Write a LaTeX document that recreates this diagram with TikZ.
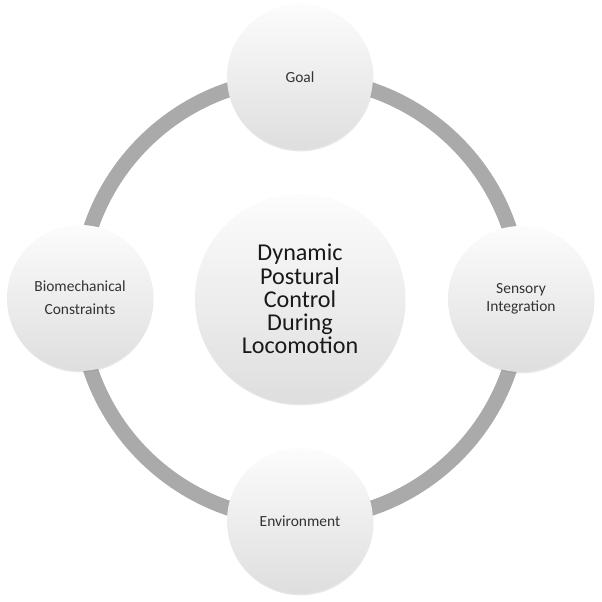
\documentclass[tikz,border=0pt]{standalone}
\usepackage{fontspec}
\setmainfont{Carlito}
\usepackage{tikz}
\usetikzlibrary{backgrounds,shadows}
\definecolor{RingGray}{HTML}{AAAAAA}
\definecolor{BallTop}{HTML}{FCFCFC}
\definecolor{BallBottom}{HTML}{DEDEDE}
\definecolor{TextDark}{HTML}{333333}

\begin{document}
\begin{tikzpicture}[x=0.03cm,y=0.03cm,
    ball/.style={circle,top color=BallTop,bottom color=BallBottom,
                 draw=none,inner sep=0pt,align=center,text=TextDark,
                 drop shadow={opacity=0.18,shadow xshift=0.4pt,shadow yshift=-1.2pt}},
    spoke/.style={ball,minimum size=4.38cm,font=\fontsize{13.2}{15.6}\selectfont},
    hub/.style={ball,minimum size=6.3cm,text=black!90,
                font=\fontsize{20.6}{19.8}\selectfont},
    ringline/.style={line width=0.45cm,RingGray}]
  \useasboundingbox (0,0) rectangle (602,602);

  \node[hub]   (hub) at (300,303) {Dynamic\\Postural\\Control\\During\\Locomotion};
  \node[spoke] (goal) at (300,525) {Goal};
  \node[spoke] (sens) at (521,303) {Sensory\\Integration};
  \node[spoke] (env)  at (300,81)  {Environment};
  \node[spoke] (bio)  at (80,304)  {Biomechanical\\[4pt]Constraints};

  % ring behind the outer circles
  \begin{scope}[on background layer]
    \draw[ringline] (hub.center) circle[radius=221];
  \end{scope}
\end{tikzpicture}
\end{document}
